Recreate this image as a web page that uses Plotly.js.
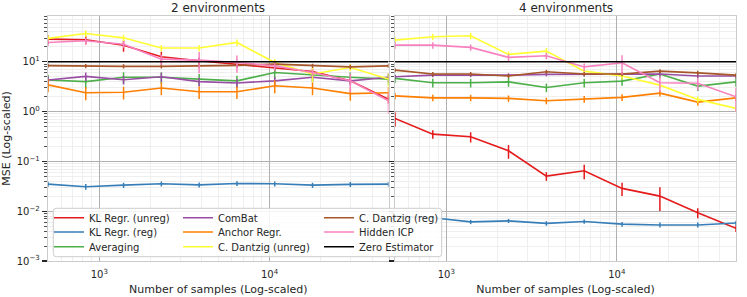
<!DOCTYPE html>
<html>
<head>
<meta charset="utf-8">
<script src="https://cdn.plot.ly/plotly-3.0.1.min.js"></script>
<style>
html,body{margin:0;padding:0;background:#ffffff;}
#chart{width:747px;height:297px;}
</style>
</head>
<body>
<div id="chart"></div>
<script>
// ---------------- data ----------------
const samples = [500, 833, 1389, 2316, 3861, 6437, 10733, 17894, 29836, 50000];
const panelTitles = ['2 environments', '4 environments'];
const methods = ['KL Regr. (unreg)', 'KL Regr. (reg)', 'Averaging', 'ComBat', 'Anchor Regr.',
                 'C. Dantzig (unreg)', 'C. Dantzig (reg)', 'Hidden ICP', 'Zero Estimator'];
const xTickVals = [1000, 10000];
const xTickText = ['10<sup>3</sup>', '10<sup>4</sup>'];
const yTickVals = [0.001, 0.01, 0.1, 1, 10];
const yTickText = ['10<sup>\u22123</sup>', '10<sup>\u22122</sup>', '10<sup>\u22121</sup>', '10<sup>0</sup>', '10<sup>1</sup>'];

// 2 environments: mean MSE and error
const klUnreg2     = [28.6, 27.7, 21.6, 12.6, 10.5, 9.0, 7.7, 6.4, 4.15, 1.78];
const klUnreg2Err  = [5.7, 5.5, 5.6, 3.3, 1.6, 1.4, 1.2, 1.0, 0.6, 0.35];
const klReg2       = [0.035, 0.031, 0.0334, 0.0355, 0.0338, 0.0361, 0.0355, 0.0334, 0.0346, 0.035];
const klReg2Err    = [0.004, 0.004, 0.004, 0.004, 0.004, 0.004, 0.004, 0.004, 0.004, 0.004];
const avg2         = [4.3, 4.0, 4.9, 4.9, 4.5, 4.15, 6.1, 5.4, 4.9, 4.5];
const avg2Err      = [1.2, 1.1, 1.3, 1.3, 1.2, 1.1, 1.6, 1.3, 1.2, 1.1];
const combat2      = [4.3, 5.1, 4.35, 5.0, 4.0, 3.75, 4.15, 4.9, 4.15, 4.9];
const combat2Err   = [0.85, 1.0, 0.85, 1.0, 0.8, 0.75, 0.8, 1.0, 0.8, 1.0];
const anchor2      = [3.45, 2.4, 2.45, 2.97, 2.5, 2.5, 3.3, 2.97, 2.3, 2.4];
const anchor2Err   = [1.0, 0.7, 0.7, 0.85, 0.7, 0.7, 0.95, 0.85, 0.65, 0.7];
const dantzigU2    = [29.5, 37, 30.3, 19, 19, 24.5, 9.7, 5.7, 7.7, 4.5];
const dantzigU2Err = [4.4, 5.5, 4.5, 2.8, 2.8, 3.7, 1.5, 1.8, 1.2, 1.4];
const dantzigR2    = [8.4, 8.2, 8.1, 8.1, 8.2, 8.5, 9.0, 8.3, 7.9, 8.3];
const dantzigR2Err = [0.8, 0.8, 0.8, 0.8, 0.8, 0.8, 0.8, 0.8, 0.8, 0.8];
const icp2         = [24.5, 26.4, 22.6, 11.3, 10.8, 9.7, 8.3, 6.1, 4.15, 1.65];
const icp2Err      = [3.7, 4.0, 3.4, 2.6, 4.9, 3.7, 1.7, 0.9, 1.7, 0.75];
const zero2        = [10, 10, 10, 10, 10, 10, 10, 10, 10, 10];

// 4 environments: mean MSE and error
const klUnreg4     = [0.73, 0.353, 0.312, 0.163, 0.0507, 0.0647, 0.0287, 0.0201, 0.0093, 0.00452];
const klUnreg4Err  = [0.23, 0.067, 0.072, 0.05, 0.01, 0.021, 0.0086, 0.01, 0.0021, 0.0007];
const klReg4       = [0.0080, 0.0074, 0.0061, 0.0064, 0.0057, 0.0062, 0.0055, 0.0053, 0.0053, 0.0058];
const klReg4Err    = [0.0006, 0.0006, 0.0006, 0.0006, 0.0006, 0.0006, 0.0006, 0.0006, 0.0006, 0.0006];
const avg4         = [4.65, 3.8, 3.8, 3.96, 3.06, 3.8, 4.1, 5.7, 3.25, 3.96];
const avg4Err      = [0.9, 0.75, 0.75, 0.8, 0.6, 0.75, 0.8, 1.1, 0.65, 0.8];
const combat4      = [5.0, 5.4, 5.4, 5.4, 5.6, 5.6, 5.6, 5.7, 5.2, 5.2];
const combat4Err   = [0.5, 0.5, 0.5, 0.5, 0.5, 0.5, 0.5, 0.5, 0.5, 0.5];
const anchor4      = [2.07, 1.89, 1.89, 1.84, 1.65, 1.78, 1.93, 2.35, 1.55, 1.89];
const anchor4Err   = [0.3, 0.28, 0.28, 0.27, 0.25, 0.27, 0.29, 0.35, 0.23, 0.28];
const dantzigU4    = [27.3, 31.8, 33.3, 14.1, 16.4, 6.5, 5.2, 3.4, 1.76, 1.16];
const dantzigU4Err = [4.0, 4.8, 5.0, 2.1, 2.5, 1.0, 0.8, 0.5, 0.26, 0.17];
const dantzigR4    = [6.8, 5.7, 5.7, 5.2, 6.3, 5.7, 5.7, 6.5, 6.0, 5.4];
const dantzigR4Err = [0.6, 0.55, 0.55, 0.5, 0.6, 0.55, 0.55, 0.6, 0.6, 0.5];
const icp4         = [21.6, 21.6, 19.5, 12.3, 13.2, 7.9, 9.55, 3.8, 3.7, 1.98];
const icp4Err      = [3.2, 3.2, 2.8, 1.9, 2.0, 1.4, 4.0, 1.3, 1.0, 1.0];
const zero4        = [10, 10, 10, 10, 10, 10, 10, 10, 10, 10];

const panelValues = [
  [klUnreg2, klReg2, avg2, combat2, anchor2, dantzigU2, dantzigR2, icp2, zero2],
  [klUnreg4, klReg4, avg4, combat4, anchor4, dantzigU4, dantzigR4, icp4, zero4]
];
const panelErrors = [
  [klUnreg2Err, klReg2Err, avg2Err, combat2Err, anchor2Err, dantzigU2Err, dantzigR2Err, icp2Err, null],
  [klUnreg4Err, klReg4Err, avg4Err, combat4Err, anchor4Err, dantzigU4Err, dantzigR4Err, icp4Err, null]
];

// ---------------- style ----------------
const colors = ['#e41a1c', '#377eb8', '#4daf4a', '#984ea3', '#ff7f00', '#ffff33', '#a65628', '#f781bf', '#000000'];
const FONT = 'DejaVu Sans, sans-serif';
const TXT = '#262626';

// plot area: left 48px, right edge 736px, top 16px, bottom 261px
const W = 747, H = 297, ML = 48, MR = 11, MT = 16, MB = 36;
const PW = W - ML - MR, PH = H - MT - MB;
const px = v => (v - ML) / PW;
const py = v => (H - MB - v) / PH;

// minor tick positions (2..9 per decade)
const xMinor = [], yMinor = [];
for (let d = 2; d <= 4; d++) for (let k = 2; k <= 9; k++) { const v = k * Math.pow(10, d); if (v > 500 && v < 50000) xMinor.push(v); }
for (let d = -3; d <= 1; d++) for (let k = 2; k <= 9; k++) { const v = k * Math.pow(10, d); if (v < 83) yMinor.push(v); }

const legendIds = ['legend', 'legend2', 'legend3', 'legend4', 'legend5', 'legend6', 'legend7', 'legend8', 'legend9'];

const traces = [];
for (let p = 0; p < 2; p++) {
  for (let i = 0; i < methods.length; i++) {
    const t = {
      type: 'scatter', mode: 'lines', name: methods[i],
      x: samples, y: panelValues[p][i],
      xaxis: p ? 'x2' : 'x', yaxis: p ? 'y2' : 'y',
      line: {color: colors[i], width: 1.6},
      showlegend: p === 0, legend: legendIds[i],
      hoverinfo: 'x+y+name'
    };
    if (panelErrors[p][i]) {
      t.error_y = {type: 'data', array: panelErrors[p][i], visible: true, color: colors[i], thickness: 1.5, width: 0};
    }
    traces.push(t);
  }
}

const xBase = {
  type: 'log', range: [Math.log10(500), Math.log10(50000)],
  tickmode: 'array', tickvals: xTickVals, ticktext: xTickText,
  ticks: 'outside', ticklen: 4, tickcolor: 'rgba(0,0,0,0)',
  tickfont: {size: 10, color: TXT, family: FONT},
  showgrid: true, gridcolor: '#b0b0b0', gridwidth: 1,
  showline: true, linecolor: '#cccccc', linewidth: 1.25, mirror: true, zeroline: false,
  minor: {tickmode: 'array', tickvals: xMinor, showgrid: true, gridcolor: '#ebebeb', gridwidth: 0.8, ticks: ''},
  title: {text: 'Number of samples (Log-scaled)', font: {size: 11, color: TXT, family: FONT}, standoff: 6},
  fixedrange: true
};
const yBase = {
  type: 'log', range: [-3, 1.92],
  tickmode: 'array', tickvals: yTickVals, ticktext: yTickText,
  ticks: 'outside', ticklen: 5, tickwidth: 1.3, tickcolor: TXT,
  tickfont: {size: 10, color: TXT, family: FONT},
  showgrid: true, gridcolor: '#b0b0b0', gridwidth: 1,
  showline: true, linecolor: '#cccccc', linewidth: 1.25, mirror: true, zeroline: false,
  minor: {tickmode: 'array', tickvals: yMinor, ticks: 'outside', ticklen: 2.5, tickwidth: 0.8, tickcolor: TXT,
          showgrid: true, gridcolor: '#ebebeb', gridwidth: 0.8},
  fixedrange: true
};

const dom1 = [0, px(388.5)], dom2 = [px(395), 1];

const layout = {
  width: W, height: H,
  margin: {l: ML, r: MR, t: MT, b: MB, pad: 0},
  paper_bgcolor: '#ffffff', plot_bgcolor: '#ffffff',
  font: {family: FONT, size: 10, color: TXT},
  showlegend: true,
  xaxis: Object.assign({}, xBase, {domain: dom1, anchor: 'y'}),
  xaxis2: Object.assign({}, xBase, {domain: dom2, anchor: 'y2'}),
  yaxis: Object.assign({}, yBase, {domain: [0, 1], anchor: 'x',
    title: {text: 'MSE (Log-scaled)', font: {size: 11, color: TXT, family: FONT}, standoff: 4}}),
  yaxis2: Object.assign({}, yBase, {domain: [0, 1], anchor: 'x2', matches: 'y', showticklabels: false}),
  annotations: [
    {text: panelTitles[0], xref: 'paper', yref: 'paper', x: (dom1[0] + dom1[1]) / 2, y: 1, xanchor: 'center', yanchor: 'bottom',
     yshift: -1, showarrow: false, font: {size: 12, color: TXT, family: FONT}},
    {text: panelTitles[1], xref: 'paper', yref: 'paper', x: (dom2[0] + dom2[1]) / 2, y: 1, xanchor: 'center', yanchor: 'bottom',
     yshift: -1, showarrow: false, font: {size: 12, color: TXT, family: FONT}}
  ],
  shapes: []
};

// legend frame (rounded rectangle)
(function () {
  const x0 = px(53.3), x1 = px(441.7), y0 = py(256.7), y1 = py(208.3);
  const rx = 3 / PW, ry = 3 / PH;
  const path = 'M' + (x0 + rx) + ',' + y0 + ' L' + (x1 - rx) + ',' + y0 + ' Q' + x1 + ',' + y0 + ' ' + x1 + ',' + (y0 + ry) +
    ' L' + x1 + ',' + (y1 - ry) + ' Q' + x1 + ',' + y1 + ' ' + (x1 - rx) + ',' + y1 +
    ' L' + (x0 + rx) + ',' + y1 + ' Q' + x0 + ',' + y1 + ' ' + x0 + ',' + (y1 - ry) +
    ' L' + x0 + ',' + (y0 + ry) + ' Q' + x0 + ',' + y0 + ' ' + (x0 + rx) + ',' + y0 + ' Z';
  layout.shapes.push({type: 'path', xref: 'paper', yref: 'paper', path: path, layer: 'above',
    fillcolor: 'rgba(255,255,255,0.85)', line: {color: '#cccccc', width: 1}});
})();

// one legend per entry, laid out in 3 columns x 3 rows
const colLeft = [49, 178, 319];
const rowMid = [217.7, 232, 246.7];
for (let i = 0; i < legendIds.length; i++) {
  const c = Math.floor(i / 3), r = i % 3;
  layout[legendIds[i]] = {
    x: px(colLeft[c]), y: py(rowMid[r]), xanchor: 'left', yanchor: 'middle',
    bgcolor: 'rgba(0,0,0,0)', borderwidth: 0, orientation: 'v',
    font: {size: 10, color: TXT, family: FONT}, tracegroupgap: 0
  };
}

Plotly.newPlot('chart', traces, layout, {displayModeBar: false, staticPlot: true});
</script>
</body>
</html>
